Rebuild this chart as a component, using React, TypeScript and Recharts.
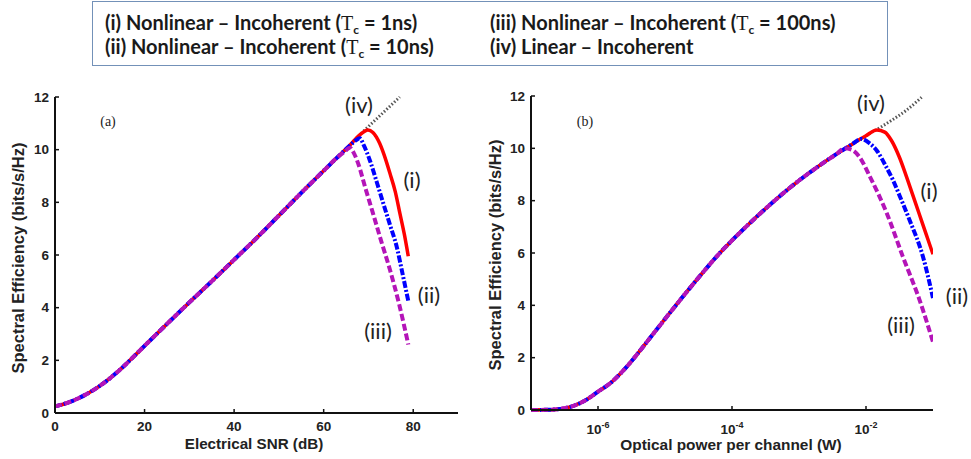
import React from "react";
import { Line, LineChart, XAxis, YAxis } from "recharts";

const seTicks = [0, 2, 4, 6, 8, 10, 12];
const snrTicks = [0, 20, 40, 60, 80];
const powerTicks = [1e-6, 1e-4, 1e-2];

// panel (a): electrical SNR (dB) -> spectral efficiency, shared rising part
const snrBase = [0, 2.5, 5, 7.5, 10, 12.5, 15, 17.5, 20, 25, 30, 35, 40, 45, 50, 55, 60, 63];
const seBaseA = [0.25, 0.37, 0.54, 0.76, 1.03, 1.35, 1.72, 2.13, 2.55, 3.38, 4.2, 5.0, 5.82, 6.64, 7.5, 8.36, 9.2, 9.7];

const snrLin = [66, 68, 70, 72, 74, 77];
const seLinA = [10.2, 10.55, 10.88, 11.2, 11.52, 12.0];
const snrI = [66, 68, 69.9, 71, 72.5, 73.5, 74.8, 76, 77, 78, 78.9];
const seIA = [10.2, 10.55, 10.75, 10.65, 10.24, 9.8, 9.1, 8.4, 7.6, 6.8, 5.95];
const snrII = [66, 67, 68.1, 69, 70.3, 71.8, 73.3, 74.8, 76.3, 77.6, 78.9];
const seIIA = [10.18, 10.33, 10.43, 10.15, 9.6, 8.8, 7.97, 7.15, 6.32, 5.3, 4.25];
const snrIII = [64.5, 65.9, 66.8, 67.7, 69.3, 71, 72.9, 74.8, 76.9, 78.9];
const seIIIA = [9.9, 10.07, 9.85, 9.48, 8.55, 7.59, 6.5, 5.44, 4.1, 2.6];

// panel (b): optical power per channel, as log10(W)
const expBase = [-7, -6.8, -6.6, -6.4, -6.2, -6, -5.8, -5.6, -5.4, -5.2, -5, -4.8, -4.6, -4.4, -4.2, -4, -3.8, -3.6, -3.4, -3.2, -3, -2.8, -2.6];
const seBaseB = [0, 0.005, 0.03, 0.13, 0.35, 0.7, 1.06, 1.57, 2.18, 2.83, 3.48, 4.12, 4.75, 5.36, 5.95, 6.48, 6.98, 7.46, 7.92, 8.36, 8.77, 9.15, 9.51];

const expLin = [-2.4, -2.2, -2.0, -1.8, -1.6, -1.4, -1.17];
const seLinB = [9.85, 10.17, 10.48, 10.78, 11.1, 11.45, 11.95];
const expI = [-2.4, -2.2, -2.0, -1.84, -1.72, -1.62, -1.5, -1.4, -1.3, -1.2, -1.1, -1.0];
const seIB = [9.85, 10.17, 10.48, 10.7, 10.62, 10.3, 9.65, 8.95, 8.2, 7.45, 6.7, 5.95];
const expII = [-2.4, -2.2, -2.07, -1.95, -1.84, -1.7, -1.6, -1.5, -1.35, -1.15, -1.0];
const seIIB = [9.85, 10.17, 10.36, 10.2, 9.92, 9.3, 8.8, 8.2, 7.26, 5.86, 4.28];
const expIII = [-2.45, -2.32, -2.2, -2.1, -1.94, -1.69, -1.45, -1.2, -1.0];
const seIIIB = [9.76, 10.0, 9.93, 9.68, 8.91, 7.52, 5.86, 4.2, 2.6];

const pts = (xs: number[], ys: number[]) => xs.map((x, i) => ({ x, y: ys[i] }));
const ptsLog = (es: number[], ys: number[]) => es.map((e, i) => ({ x: Math.pow(10, e), y: ys[i] }));

const linA = pts([...snrBase, ...snrLin], [...seBaseA, ...seLinA]);
const iA = pts([...snrBase, ...snrI], [...seBaseA, ...seIA]);
const iiA = pts([...snrBase, ...snrII], [...seBaseA, ...seIIA]);
const iiiA = pts([...snrBase, ...snrIII], [...seBaseA, ...seIIIA]);

const linB = ptsLog([...expBase, ...expLin], [...seBaseB, ...seLinB]);
const iB = ptsLog([...expBase, ...expI], [...seBaseB, ...seIB]);
const iiB = ptsLog([...expBase, ...expII], [...seBaseB, ...seIIB]);
const iiiB = ptsLog([...expBase, ...expIII], [...seBaseB, ...seIIIB]);

const sans = "'Liberation Sans', Arial, sans-serif";
const label = "Lato, 'Open Sans', sans-serif";
const axisLine = { stroke: "#111", strokeWidth: 2 };
const tickLine = { stroke: "#111", strokeWidth: 1.5 };
const yTick = { fill: "#222", fontSize: 13.5, fontWeight: 700, fontFamily: sans };

function SnrTick({ x, y, payload }: any) {
  return (
    <text x={x} y={y + 18} textAnchor="middle" fill="#222" fontSize={13.5} fontWeight={700} fontFamily={sans}>
      {payload.value}
    </text>
  );
}

function PowerTick({ x, y, payload }: any) {
  const e = Math.round(Math.log10(payload.value));
  return (
    <text x={x} y={y + 24} textAnchor="middle" fill="#222" fontSize={13.5} fontWeight={700} fontFamily={sans}>
      10
      <tspan dy={-6} fontSize={9}>
        {e}
      </tspan>
    </text>
  );
}

function Series({ lin, i, ii, iii }: any) {
  return [
    <Line key="iv" data={lin} dataKey="y" type="monotone" dot={false} stroke="#555" strokeWidth={3} strokeDasharray="1.5 2" isAnimationActive={false} />,
    <Line key="i" data={i} dataKey="y" type="monotone" dot={false} stroke="#f00" strokeWidth={3.5} isAnimationActive={false} />,
    <Line key="ii" data={ii} dataKey="y" type="monotone" dot={false} stroke="#0000ff" strokeWidth={4} strokeDasharray="7 2 2 2" isAnimationActive={false} />,
    <Line key="iii" data={iii} dataKey="y" type="monotone" dot={false} stroke="#b414b8" strokeWidth={4} strokeDasharray="7 3" isAnimationActive={false} />,
  ];
}

function Txt({ x, y, size, children, font = label, weight = 400, rotate = false }: any) {
  return (
    <div
      style={{
        position: "absolute",
        left: x,
        top: y,
        transform: `translate(-50%, -50%)${rotate ? " rotate(-90deg)" : ""}`,
        fontFamily: font,
        fontSize: size,
        fontWeight: weight,
        color: "#222",
        whiteSpace: "nowrap",
        lineHeight: 1,
      }}
    >
      {children}
    </div>
  );
}

function Tc({ v }: { v: string }) {
  return (
    <>
      (<span style={{ fontFamily: "'Liberation Serif', serif", fontWeight: 400 }}>T</span>
      <span style={{ fontSize: 12, verticalAlign: -4 }}>c</span>
      {" = " + v})
    </>
  );
}

const legendText: React.CSSProperties = {
  position: "absolute",
  fontFamily: label,
  fontSize: 20,
  fontWeight: 700,
  color: "#1a1a1a",
  whiteSpace: "nowrap",
  lineHeight: 1,
};

export default function App() {
  return (
    <div style={{ position: "absolute", left: 0, top: 0, width: 971, height: 459, background: "#fff", overflow: "hidden" }}>
      <div style={{ position: "absolute", left: 92, top: 1, width: 796, height: 65, border: "1.5px solid #7391b8", boxSizing: "border-box" }} />
      <div style={{ ...legendText, left: 105, top: 12 }}>
        (i) Nonlinear – Incoherent <Tc v="1ns" />
      </div>
      <div style={{ ...legendText, left: 105, top: 36 }}>
        (ii) Nonlinear – Incoherent <Tc v="10ns" />
      </div>
      <div style={{ ...legendText, left: 490, top: 12 }}>
        (iii) Nonlinear – Incoherent <Tc v="100ns" />
      </div>
      <div style={{ ...legendText, left: 490, top: 36 }}>(iv) Linear – Incoherent</div>

      <div style={{ position: "absolute", left: 0, top: 80 }}>
        <LineChart width={480} height={379} margin={{ top: 17, right: 22, bottom: 16, left: 15 }}>
          <XAxis dataKey="x" type="number" domain={[0, 90]} ticks={snrTicks} height={30} tickSize={-4} tickMargin={4} axisLine={axisLine} tickLine={tickLine} tick={<SnrTick />} interval={0} />
          <YAxis type="number" domain={[0, 12]} ticks={seTicks} width={40} tickSize={-4} tickMargin={10} axisLine={axisLine} tickLine={tickLine} tick={yTick} interval={0} />
          {Series({ lin: linA, i: iA, ii: iiA, iii: iiiA })}
        </LineChart>
      </div>

      <div style={{ position: "absolute", left: 480, top: 80 }}>
        <LineChart width={491} height={379} margin={{ top: 16, right: 38, bottom: 19, left: 11 }}>
          <XAxis dataKey="x" type="number" scale="log" domain={[1e-7, 1e-1]} allowDataOverflow ticks={powerTicks} height={30} tickSize={-4} tickMargin={4} axisLine={axisLine} tickLine={tickLine} tick={<PowerTick />} interval={0} />
          <YAxis type="number" domain={[0, 12]} ticks={seTicks} width={40} tickSize={-4} tickMargin={10} axisLine={axisLine} tickLine={tickLine} tick={yTick} interval={0} />
          {Series({ lin: linB, i: iB, ii: iiB, iii: iiiB })}
        </LineChart>
      </div>

      <Txt x={18} y={258} size={16.5} font={sans} weight={700} rotate>
        Spectral Efficiency (bits/s/Hz)
      </Txt>
      <Txt x={495} y={255} size={16.5} font={sans} weight={700} rotate>
        Spectral Efficiency (bits/s/Hz)
      </Txt>
      <Txt x={254} y={444} size={15.2} font={sans} weight={700}>
        Electrical SNR (dB)
      </Txt>
      <Txt x={731} y={445} size={15.4} font={sans} weight={700}>
        Optical power per channel (W)
      </Txt>

      <Txt x={108} y={122} size={14} font="'Liberation Serif', serif">(a)</Txt>
      <Txt x={585} y={122} size={14} font="'Liberation Serif', serif">(b)</Txt>

      <Txt x={359} y={105} size={22}>(iv)</Txt>
      <Txt x={412} y={180} size={22}>(i)</Txt>
      <Txt x={429} y={295} size={22}>(ii)</Txt>
      <Txt x={378} y={331} size={22}>(iii)</Txt>
      <Txt x={871} y={103} size={22}>(iv)</Txt>
      <Txt x={929} y={191} size={22}>(i)</Txt>
      <Txt x={957} y={296} size={22}>(ii)</Txt>
      <Txt x={901} y={325} size={22}>(iii)</Txt>
    </div>
  );
}
